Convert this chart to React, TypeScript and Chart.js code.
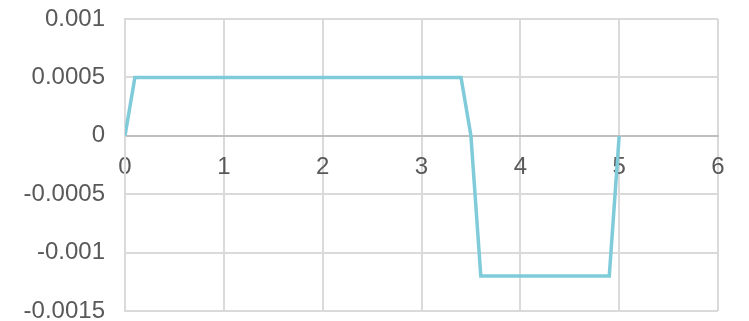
import React, { useEffect, useRef } from "react";
import { Chart, registerables } from "chart.js";

Chart.register(...registerables);

// Series: piecewise signal, x in seconds, y in amplitude units
const xValues = [0, 0.1, 3.4, 3.5, 3.6, 4.9, 5];
const yValues = [0, 0.0005, 0.0005, 0, -0.0012, -0.0012, 0];

// Axis ranges
const xMin = 0;
const xMax = 6;
const xStep = 1;
const yMin = -0.0015;
const yMax = 0.001;
const yStep = 0.0005;

const FONT = "'Liberation Sans', Arial, sans-serif";
const GRID = "#DADADA";
const ZERO_LINE = "#BFBFBF";

export default function App() {
  const canvasRef = useRef<HTMLCanvasElement | null>(null);

  useEffect(() => {
    const prevMargin = document.body.style.margin;
    document.body.style.margin = "0";
    const canvas = canvasRef.current;
    if (!canvas) return;
    const points = xValues.map((x, i) => ({ x, y: yValues[i] }));
    const chart = new Chart(canvas, {
      type: "scatter",
      data: {
        datasets: [
          {
            data: points,
            showLine: true,
            borderColor: "#7FCBD9",
            backgroundColor: "#7FCBD9",
            borderWidth: 3.5,
            pointRadius: 0,
            pointHoverRadius: 0,
            tension: 0,
          },
        ],
      },
      options: {
        animation: false,
        responsive: false,
        maintainAspectRatio: false,
        devicePixelRatio: 1,
        layout: { padding: { top: 19, bottom: 10, left: 0, right: 31 } },
        plugins: { legend: { display: false }, tooltip: { enabled: false } },
        scales: {
          x: {
            type: "linear",
            min: xMin,
            max: xMax,
            position: { y: 0 },
            grid: { color: GRID, lineWidth: 2, drawTicks: false },
            border: { display: true, color: ZERO_LINE, width: 2 },
            ticks: {
              stepSize: xStep,
              color: "#595959",
              font: { family: FONT, size: 24, lineHeight: 1 },
              padding: 20,
              maxRotation: 0,
            },
          },
          y: {
            type: "linear",
            min: yMin,
            max: yMax,
            afterFit: (scale: any) => {
              // fixed label column; the plot area edges come from layout padding
              scale.width = 125;
              scale.paddingTop = 0;
              scale.paddingBottom = 0;
            },
            grid: {
              color: (ctx: any) =>
                ctx.tick && Math.abs(ctx.tick.value) < 1e-9 ? ZERO_LINE : GRID,
              lineWidth: 2,
              drawTicks: false,
            },
            border: { display: true, color: GRID, width: 2 },
            ticks: {
              stepSize: yStep,
              color: "#595959",
              font: { family: FONT, size: 24, lineHeight: 1 },
              padding: 20,
              callback: (v: any) => String(parseFloat(Number(v).toFixed(6))),
            },
          },
        },
      },
    });
    return () => {
      chart.destroy();
      document.body.style.margin = prevMargin;
    };
  }, []);

  return (
    <div style={{ width: 749, height: 321 }}>
      <canvas ref={canvasRef} width={749} height={321} style={{ display: "block" }} />
    </div>
  );
}
